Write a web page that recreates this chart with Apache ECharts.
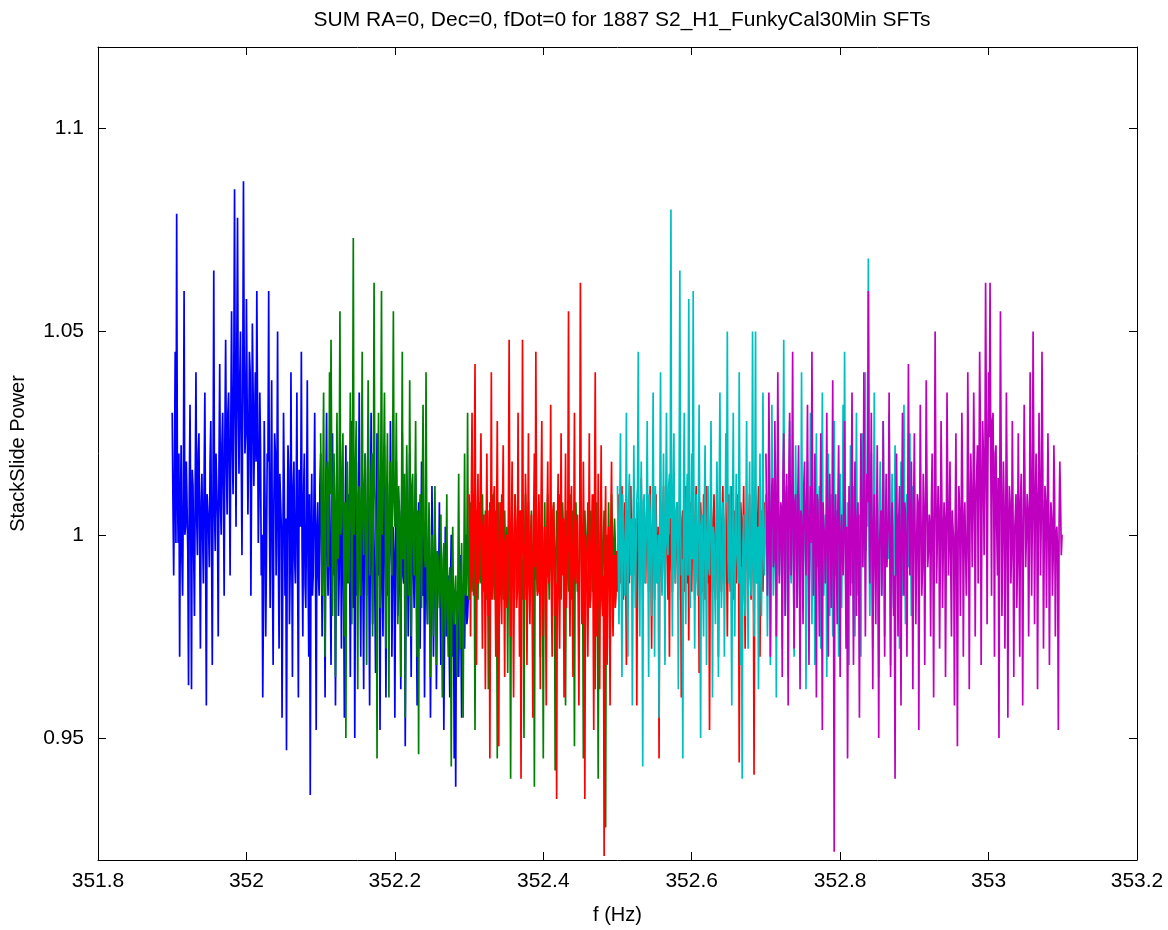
<!DOCTYPE html>
<html>
<head>
<meta charset="utf-8">
<title>StackSlide Power</title>
<script src="https://cdn.jsdelivr.net/npm/echarts@6/dist/echarts.min.js"></script>
<style>
  html, body { margin: 0; padding: 0; background: #fff; }
  #chart { width: 1168px; height: 930px; }
</style>
</head>
<body>
<div id="chart"></div>
<script>
// Frequency bin spacing (Hz) shared by all bands
const binStep = 0.001;

// Start frequency (Hz) of each band
const bandStarts = [351.9, 352.1, 352.3, 352.5, 352.7];

// Tick labels
const xTicks = [351.8, 352, 352.2, 352.4, 352.6, 352.8, 353, 353.2];
const yTicks = [0.95, 1, 1.05, 1.1];

// StackSlide power, band 1 (351.9 - 352.3 Hz)
const blueValues = [
  1.030, 1.008, 0.990, 1.015, 1.045, 0.998, 1.079, 1.012, 0.998, 1.020, 0.970, 1.005, 1.022, 0.995, 0.985, 1.010, 1.060, 1.000, 1.002, 1.018,
  1.018, 0.996, 0.963, 1.010, 1.032, 1.002, 0.962, 1.016, 1.012, 0.994, 0.980, 1.012, 1.040, 1.004, 0.995, 1.020, 1.025, 0.998, 0.972, 1.008,
  1.015, 1.000, 0.988, 1.014, 1.035, 0.996, 0.958, 1.010, 1.010, 1.002, 0.992, 1.018, 1.028, 0.998, 0.968, 1.012, 1.065, 1.006, 0.996, 1.020,
  1.020, 1.004, 0.975, 1.016, 1.042, 1.008, 1.000, 1.022, 1.030, 1.010, 0.985, 1.025, 1.048, 1.018, 1.005, 1.030, 1.035, 1.015, 0.990, 1.028,
  1.055, 1.022, 1.010, 1.040, 1.085, 1.028, 1.002, 1.045, 1.078, 1.030, 1.015, 1.038, 1.050, 1.020, 0.995, 1.035, 1.087, 1.042, 1.020, 1.025,
  1.058, 1.032, 1.005, 1.020, 1.045, 1.040, 0.985, 1.015, 1.052, 1.035, 1.012, 1.025, 1.040, 1.018, 1.060, 1.030, 0.998, 1.010, 1.035, 1.022,
  0.990, 1.000, 0.960, 0.985, 1.028, 1.010, 0.975, 0.995, 1.020, 1.018, 1.060, 1.005, 0.982, 1.012, 1.038, 0.992, 0.968, 1.008, 1.025, 1.020,
  0.990, 1.010, 1.050, 0.995, 0.972, 1.015, 1.015, 1.002, 0.955, 0.990, 1.030, 1.012, 0.985, 1.004, 0.947, 0.998, 1.022, 1.016, 0.978, 0.992,
  1.040, 1.000, 0.965, 1.012, 1.018, 0.994, 0.988, 1.008, 1.035, 0.990, 0.960, 1.016, 1.012, 1.002, 1.045, 0.996, 0.975, 1.010, 1.020, 0.988,
  0.982, 1.005, 1.038, 0.992, 0.970, 1.010, 0.936, 0.998, 1.015, 0.985, 0.990, 1.008, 1.030, 0.995, 0.952, 1.002, 1.008, 0.990, 0.985, 1.012,
  1.020, 0.998, 0.975, 1.005, 1.005, 0.992, 0.960, 1.010, 1.030, 0.995, 0.985, 1.002, 1.012, 0.988, 0.968, 1.008, 1.025, 0.996, 0.990, 1.000,
  0.958, 0.994, 1.015, 1.002, 0.980, 0.990, 1.032, 1.006, 0.972, 0.998, 1.008, 0.986, 0.955, 1.004, 1.022, 0.992, 0.988, 1.000, 1.010, 0.995,
  0.965, 1.002, 1.028, 0.990, 0.982, 1.008, 0.950, 0.996, 1.018, 0.985, 0.992, 1.004, 1.035, 0.994, 0.970, 1.000, 1.005, 0.988, 0.962, 1.006,
  1.020, 0.996, 0.985, 1.004, 1.012, 0.990, 0.958, 1.002, 1.030, 0.994, 0.978, 1.008, 1.008, 0.986, 0.966, 1.000, 1.025, 0.992, 0.990, 1.005,
  0.952, 0.998, 1.015, 0.988, 0.975, 1.004, 1.022, 0.992, 0.960, 1.000, 1.010, 0.985, 0.985, 0.996, 1.028, 1.006, 0.970, 0.990, 1.002, 0.994,
  0.955, 0.992, 1.018, 1.000, 0.980, 0.986, 1.006, 0.996, 0.962, 1.004, 1.025, 0.990, 0.988, 0.998, 0.948, 0.984, 1.012, 1.002, 0.975, 0.994,
  1.020, 0.988, 0.965, 0.996, 1.000, 0.992, 0.982, 1.002, 1.015, 0.984, 0.958, 0.998, 1.008, 0.990, 0.972, 0.994, 1.018, 0.986, 0.985, 1.000,
  0.960, 0.990, 1.010, 0.984, 0.978, 0.996, 0.995, 0.988, 0.955, 0.982, 1.012, 0.994, 0.970, 0.986, 1.005, 0.992, 0.962, 0.980, 0.990, 0.988,
  1.008, 0.984, 0.968, 0.980, 0.985, 0.990, 0.952, 0.978, 1.002, 0.986, 0.975, 0.982, 0.990, 0.976, 0.960, 0.988, 1.000, 0.980, 0.970, 0.984,
  0.945, 0.978, 0.938, 0.986, 0.985, 0.974, 0.965, 0.982, 0.995, 0.976, 0.955, 0.984, 0.988, 0.980, 0.972, 0.988, 1.000, 0.978, 0.980, 0.985
];

// StackSlide power, band 2 (352.1 - 352.5 Hz)
const greenValues = [
  1.025, 1.002, 0.985, 1.012, 1.035, 0.996, 0.970, 1.008, 1.015, 1.018, 0.992, 1.000, 1.040, 1.010, 1.048, 1.015, 0.980, 0.998, 1.020, 1.006,
  0.965, 1.004, 1.030, 0.994, 0.995, 1.012, 1.055, 1.000, 1.002, 1.016, 1.025, 0.998, 0.975, 1.008, 0.950, 1.002, 1.018, 0.992, 0.988, 1.010,
  1.035, 1.006, 0.978, 1.014, 1.073, 1.000, 1.000, 1.018, 1.028, 0.996, 0.962, 1.010, 1.012, 1.004, 0.985, 1.016, 1.045, 1.002, 0.995, 1.012,
  1.020, 0.998, 0.968, 1.008, 1.038, 1.015, 0.990, 1.002, 1.015, 1.020, 0.975, 1.006, 1.062, 1.012, 1.005, 0.996, 0.945, 1.010, 1.030, 1.004,
  0.982, 1.014, 1.060, 1.000, 1.008, 1.018, 1.035, 1.006, 0.972, 1.010, 1.025, 0.996, 0.960, 1.012, 1.018, 1.004, 0.990, 1.016, 1.055, 1.008,
  1.002, 1.010, 1.030, 0.998, 0.978, 1.012, 1.012, 1.002, 0.965, 1.008, 1.045, 0.994, 0.995, 1.015, 0.955, 1.000, 1.022, 1.006, 0.985, 0.996,
  1.038, 1.004, 0.975, 1.012, 1.015, 0.998, 0.990, 1.008, 1.028, 0.994, 0.970, 1.006, 0.946, 1.002, 1.010, 0.996, 0.982, 1.010, 1.032, 1.000,
  0.995, 0.992, 1.040, 1.002, 0.978, 0.988, 1.008, 0.998, 0.965, 0.990, 1.000, 0.984, 0.975, 0.994, 1.012, 0.986, 0.968, 0.996, 0.995, 0.988,
  0.982, 0.990, 1.005, 0.982, 0.960, 0.994, 0.998, 0.986, 0.975, 0.992, 1.010, 0.980, 0.970, 0.988, 0.992, 0.984, 0.943, 0.990, 1.002, 0.982,
  0.978, 0.986, 0.990, 0.980, 0.965, 0.990, 1.015, 0.984, 0.972, 0.988, 0.998, 0.978, 0.955, 0.992, 1.020, 0.986, 0.985, 0.994, 1.030, 0.988,
  0.984, 0.996, 1.008, 0.992, 0.986, 1.002, 1.010, 0.994, 0.952, 0.998, 1.006, 0.990, 0.984, 1.000, 1.008, 0.994, 0.988, 1.002, 1.010, 0.996,
  0.986, 0.998, 1.006, 0.992, 0.984, 1.000, 0.962, 0.994, 1.008, 0.996, 0.988, 1.002, 1.010, 0.990, 0.984, 0.998, 1.006, 0.994, 0.945, 1.000,
  1.008, 0.994, 0.986, 1.000, 1.010, 0.992, 0.984, 0.998, 1.006, 0.996, 0.988, 1.002, 0.966, 0.994, 1.008, 0.990, 0.940, 0.998, 1.006, 0.994,
  0.986, 1.000, 1.010, 0.994, 0.984, 0.998, 1.008, 0.992, 0.988, 1.002, 1.006, 0.996, 0.984, 0.994, 0.950, 1.000, 1.010, 0.992, 0.986, 0.998,
  1.008, 0.994, 0.986, 1.000, 1.006, 0.992, 0.984, 0.998, 0.938, 0.996, 1.010, 0.990, 0.986, 1.002, 1.008, 0.994, 0.970, 0.998, 1.006, 0.992,
  0.945, 0.996, 1.008, 0.990, 0.986, 1.000, 1.010, 0.994, 0.984, 0.998, 1.006, 0.992, 0.988, 1.002, 1.008, 0.996, 0.942, 0.994, 1.006, 0.998,
  0.986, 1.000, 1.010, 0.992, 0.984, 0.996, 1.008, 1.002, 0.988, 0.994, 0.958, 0.998, 1.006, 0.990, 0.986, 1.000, 1.010, 0.994, 0.984, 0.998,
  1.006, 0.992, 0.948, 1.000, 1.008, 0.996, 0.986, 0.994, 0.984, 1.002, 1.010, 0.998, 0.988, 0.992, 0.945, 0.996, 1.006, 1.000, 0.986, 0.994,
  1.008, 0.998, 0.984, 0.992, 1.006, 1.000, 0.986, 0.996, 1.010, 0.994, 0.962, 1.002, 1.008, 0.990, 0.940, 0.996, 0.986, 1.000, 1.010, 0.994,
  0.984, 0.998, 1.006, 0.992, 0.928, 1.000, 0.988, 0.994, 1.008, 0.996, 0.970, 0.990, 1.010, 1.002, 0.986, 0.994, 1.004, 0.998, 0.990, 0.996
];

// StackSlide power, band 3 (352.3 - 352.7 Hz)
const redValues = [
  1.010, 0.998, 0.975, 1.008, 1.030, 0.992, 0.985, 1.012, 1.042, 0.996, 0.968, 1.004, 1.015, 0.988, 0.990, 1.010, 1.025, 0.994, 0.972, 1.002,
  1.005, 0.990, 0.962, 1.000, 1.020, 0.986, 0.980, 1.006, 0.945, 0.994, 1.040, 0.984, 0.992, 1.008, 1.012, 0.992, 0.970, 1.002, 1.028, 0.988,
  0.948, 0.996, 1.008, 0.986, 0.978, 1.004, 1.022, 0.990, 0.965, 0.998, 1.000, 0.982, 0.985, 1.006, 1.048, 0.994, 0.975, 1.000, 1.018, 0.988,
  0.960, 0.992, 1.010, 1.002, 0.982, 0.986, 1.030, 0.996, 0.970, 1.006, 0.940, 0.990, 1.048, 0.998, 0.992, 0.984, 1.015, 1.004, 0.968, 0.994,
  1.025, 0.988, 0.978, 0.998, 1.005, 0.982, 0.955, 1.004, 1.020, 0.992, 1.045, 1.000, 0.985, 0.986, 1.010, 0.996, 0.962, 1.008, 1.028, 0.990,
  0.975, 0.996, 1.002, 0.986, 0.958, 1.002, 1.018, 0.990, 0.988, 0.998, 1.032, 0.984, 0.970, 1.006, 1.008, 0.992, 0.980, 0.988, 0.935, 1.000,
  1.015, 0.986, 0.972, 0.996, 1.025, 0.990, 0.990, 1.004, 0.960, 0.994, 1.020, 0.982, 0.982, 1.000, 1.055, 0.992, 0.975, 1.006, 1.012, 0.988,
  0.965, 0.998, 1.030, 0.990, 0.988, 1.002, 1.005, 0.984, 0.958, 0.996, 1.062, 1.008, 0.978, 0.986, 1.018, 0.994, 0.935, 1.000, 1.000, 0.988,
  0.970, 0.992, 1.025, 0.982, 0.985, 0.998, 1.010, 0.988, 0.952, 1.004, 1.040, 0.994, 0.975, 0.986, 1.015, 0.990, 0.962, 0.996, 1.022, 0.984,
  0.980, 0.990, 0.921, 0.998, 1.012, 0.984, 0.968, 0.994, 1.002, 0.988, 0.958, 1.002, 1.018, 0.986, 0.975, 0.992, 0.995, 0.982, 0.985, 0.996,
  0.986, 0.998, 1.010, 0.994, 0.988, 1.004, 1.012, 0.996, 0.984, 1.000, 1.008, 0.992, 0.968, 1.002, 1.006, 0.996, 0.988, 1.004, 1.012, 0.994,
  0.986, 1.000, 1.010, 0.996, 0.990, 1.004, 0.958, 0.998, 1.008, 0.994, 0.988, 1.002, 1.014, 0.996, 0.984, 1.000, 1.006, 0.992, 0.988, 1.004,
  1.010, 0.996, 0.986, 1.002, 1.012, 0.994, 0.972, 1.000, 1.006, 0.996, 0.984, 1.004, 1.010, 0.992, 0.988, 1.002, 0.945, 0.998, 1.008, 0.994,
  0.986, 1.002, 1.012, 0.996, 0.988, 1.004, 1.008, 0.994, 0.984, 1.000, 0.970, 1.006, 1.010, 0.992, 0.986, 1.002, 1.012, 0.996, 0.988, 1.000,
  1.008, 0.994, 0.984, 1.002, 1.010, 0.996, 0.960, 1.004, 1.006, 0.992, 0.986, 1.000, 1.012, 0.996, 0.988, 1.004, 0.974, 0.998, 1.008, 0.994,
  0.986, 1.002, 1.010, 0.996, 0.984, 1.004, 1.012, 0.992, 0.988, 1.000, 0.966, 0.996, 1.008, 1.002, 0.986, 0.994, 1.010, 1.004, 0.984, 0.998,
  1.012, 0.996, 0.988, 1.002, 0.952, 0.994, 1.008, 1.004, 0.986, 0.996, 1.010, 1.000, 0.984, 0.994, 1.006, 1.002, 0.970, 0.998, 1.010, 0.996,
  0.986, 1.004, 1.012, 0.994, 0.988, 1.000, 1.008, 0.996, 0.975, 1.002, 1.010, 0.994, 0.986, 1.004, 1.012, 0.998, 0.984, 0.994, 1.006, 1.000,
  0.988, 0.996, 1.010, 1.002, 0.944, 0.994, 1.008, 1.004, 0.986, 0.998, 1.012, 0.992, 0.972, 1.002, 1.006, 0.996, 0.986, 1.004, 1.010, 0.994,
  0.984, 1.000, 1.008, 0.996, 0.941, 1.002, 1.010, 0.994, 0.988, 1.004, 1.012, 0.996, 0.970, 1.000, 1.006, 0.994, 0.986, 1.002, 1.008, 0.998
];

// StackSlide power, band 4 (352.5 - 352.9 Hz)
const cyanValues = [
  1.012, 0.996, 0.978, 1.006, 1.025, 0.990, 0.965, 1.010, 1.002, 0.994, 0.985, 1.002, 1.030, 0.986, 0.970, 1.008, 1.015, 0.998, 0.990, 1.004,
  0.958, 0.992, 1.022, 1.000, 0.982, 0.996, 1.008, 1.012, 1.045, 0.990, 0.975, 1.004, 1.018, 0.994, 0.943, 1.008, 1.010, 0.988, 0.988, 1.002,
  1.028, 0.998, 0.965, 1.010, 1.005, 0.992, 0.980, 1.004, 1.035, 0.996, 0.970, 1.012, 1.012, 0.988, 0.992, 1.000, 0.955, 1.006, 1.040, 0.994,
  0.985, 1.002, 1.020, 0.994, 0.968, 1.008, 1.030, 0.998, 0.995, 1.012, 1.015, 1.004, 1.080, 0.996, 0.975, 1.010, 1.025, 0.992, 0.988, 1.006,
  1.008, 0.998, 0.962, 1.008, 1.065, 1.002, 0.990, 0.994, 0.945, 1.012, 1.030, 0.996, 0.978, 1.006, 1.015, 0.990, 1.058, 1.004, 0.982, 1.000,
  1.020, 0.994, 1.060, 1.004, 0.972, 0.998, 1.010, 0.990, 0.985, 1.008, 1.032, 0.996, 0.950, 1.002, 1.005, 0.988, 0.975, 1.006, 1.022, 0.992,
  0.968, 1.000, 1.012, 0.992, 0.990, 1.006, 1.028, 0.996, 0.960, 1.002, 1.000, 0.988, 0.978, 1.004, 1.018, 0.994, 0.965, 1.008, 1.035, 0.998,
  0.982, 0.990, 1.008, 1.002, 0.970, 0.996, 1.025, 1.008, 1.050, 0.994, 0.988, 1.000, 1.012, 0.986, 0.958, 1.004, 1.030, 0.992, 0.975, 0.998,
  1.015, 0.996, 0.992, 0.988, 1.040, 1.002, 0.968, 0.992, 0.940, 0.998, 1.005, 0.986, 0.980, 1.004, 1.028, 0.994, 0.972, 1.000, 1.018, 0.990,
  0.985, 0.998, 1.050, 0.992, 0.975, 1.006, 1.050, 0.988, 0.998, 1.002, 0.962, 0.996, 1.020, 0.990, 0.980, 1.004, 1.035, 0.994, 0.990, 1.000,
  1.010, 1.000, 0.975, 0.994, 1.025, 1.004, 0.968, 0.998, 1.032, 1.002, 0.985, 0.992, 1.015, 1.006, 0.960, 0.996, 1.020, 1.000, 0.990, 1.004,
  1.005, 0.996, 0.972, 1.002, 1.048, 0.998, 0.980, 1.006, 1.012, 0.994, 0.965, 1.000, 1.028, 0.992, 0.988, 1.004, 1.000, 0.998, 0.970, 1.002,
  1.022, 1.004, 0.982, 0.996, 1.010, 1.000, 0.975, 0.992, 1.040, 1.002, 0.990, 0.998, 1.008, 1.006, 0.962, 0.994, 1.018, 1.000, 0.985, 0.996,
  1.030, 0.998, 0.978, 1.004, 1.002, 0.994, 0.968, 1.000, 1.025, 0.996, 0.992, 1.006, 1.012, 0.992, 0.972, 1.002, 1.035, 0.998, 0.985, 1.000,
  1.005, 1.002, 0.965, 0.996, 1.020, 1.004, 0.980, 0.994, 1.010, 1.000, 0.975, 0.998, 1.028, 0.992, 0.990, 1.006, 1.000, 0.996, 0.970, 1.002,
  1.015, 0.996, 0.982, 1.002, 1.032, 0.998, 1.045, 1.004, 0.978, 0.994, 1.008, 1.000, 0.968, 0.998, 1.022, 1.006, 0.988, 0.992, 1.012, 1.000,
  0.975, 1.004, 1.030, 0.996, 0.985, 1.000, 1.005, 0.994, 0.970, 1.002, 1.025, 0.998, 0.992, 1.006, 1.040, 0.996, 1.010, 1.002, 1.068, 0.998,
  0.980, 1.000, 1.020, 0.994, 0.972, 1.004, 1.035, 0.998, 0.990, 1.002, 1.008, 0.992, 0.965, 1.006, 1.018, 1.000, 0.985, 0.996, 1.028, 1.002,
  0.975, 0.998, 1.010, 1.002, 0.995, 0.994, 1.030, 1.004, 0.968, 1.000, 1.015, 0.996, 0.982, 1.002, 1.022, 0.998, 0.990, 1.004, 1.005, 0.994,
  0.972, 1.000, 1.018, 0.996, 0.985, 1.002, 1.032, 0.998, 0.978, 1.004, 1.010, 0.994, 0.992, 1.000, 1.025, 0.998, 0.980, 1.002, 1.012, 0.996
];

// StackSlide power, band 5 (352.7 - 353.1 Hz)
const magentaValues = [
  1.020, 1.004, 0.985, 0.996, 1.035, 1.010, 0.970, 1.000, 1.012, 1.014, 0.992, 0.994, 1.028, 1.008, 0.975, 1.002, 1.040, 1.012, 0.988, 0.998,
  1.008, 1.006, 0.965, 1.014, 1.025, 0.998, 0.980, 1.010, 1.015, 1.002, 0.958, 1.016, 1.030, 1.004, 0.990, 1.012, 1.045, 0.996, 0.972, 1.008,
  1.010, 1.000, 0.982, 1.010, 1.022, 0.994, 0.962, 1.006, 1.005, 0.998, 0.978, 1.012, 1.018, 1.002, 0.990, 1.008, 1.032, 0.996, 0.968, 1.004,
  1.012, 0.998, 1.045, 1.006, 0.985, 1.002, 1.020, 0.994, 0.960, 1.010, 1.008, 0.996, 0.975, 1.004, 1.025, 0.992, 0.952, 1.008, 1.002, 1.000,
  0.988, 1.002, 1.030, 0.994, 0.970, 1.006, 1.015, 0.998, 0.982, 1.000, 1.038, 0.992, 0.922, 1.004, 1.010, 0.996, 0.978, 1.008, 1.022, 0.998,
  0.965, 1.000, 1.005, 0.994, 0.990, 1.004, 1.028, 0.996, 0.972, 1.002, 0.945, 0.990, 1.012, 0.998, 0.985, 1.006, 1.035, 0.994, 0.968, 1.002,
  1.018, 0.996, 0.980, 1.004, 1.008, 0.992, 0.955, 1.000, 1.025, 1.006, 0.992, 0.998, 1.040, 1.010, 0.975, 1.002, 1.015, 1.008, 1.060, 1.012,
  0.988, 1.004, 1.030, 0.996, 0.962, 1.002, 1.010, 0.994, 0.978, 1.000, 1.022, 0.992, 0.950, 0.998, 1.002, 1.006, 0.985, 0.996, 1.028, 1.002,
  0.970, 0.998, 1.015, 0.992, 0.992, 1.004, 1.035, 0.996, 0.965, 1.000, 1.008, 0.994, 0.980, 0.990, 0.940, 1.002, 1.020, 0.996, 0.975, 1.004,
  1.012, 0.994, 0.958, 1.002, 1.030, 0.998, 0.985, 1.008, 1.005, 0.996, 0.970, 1.004, 1.042, 1.010, 0.990, 1.000, 1.018, 0.994, 0.962, 1.006,
  1.025, 1.000, 0.978, 0.996, 1.010, 1.008, 0.952, 0.998, 1.032, 1.004, 0.985, 0.992, 1.015, 1.006, 0.968, 1.000, 1.038, 1.012, 0.992, 0.996,
  1.005, 1.002, 0.975, 1.008, 1.020, 0.996, 0.960, 1.004, 1.050, 1.012, 0.988, 1.000, 1.012, 1.006, 0.972, 0.994, 1.028, 1.010, 0.982, 0.998,
  1.008, 1.004, 0.965, 0.996, 1.035, 1.010, 0.990, 1.000, 1.018, 0.994, 0.975, 1.006, 1.002, 0.998, 0.958, 1.002, 1.025, 0.992, 0.948, 1.000,
  1.012, 1.006, 0.980, 0.998, 1.030, 1.012, 0.970, 1.002, 1.008, 1.008, 0.985, 0.996, 1.040, 1.014, 0.962, 1.004, 1.020, 1.010, 0.992, 1.006,
  1.035, 1.016, 0.975, 1.008, 1.015, 1.022, 0.988, 1.010, 1.045, 1.026, 0.968, 1.004, 1.028, 1.020, 0.995, 1.012, 1.062, 1.030, 0.978, 1.014,
  1.040, 1.024, 1.062, 1.018, 0.985, 1.028, 1.030, 1.008, 0.970, 1.020, 1.022, 1.002, 0.990, 1.014, 0.950, 1.006, 1.055, 1.018, 0.980, 1.000,
  1.018, 1.006, 0.972, 0.998, 1.035, 1.012, 0.955, 1.002, 1.012, 1.008, 0.988, 0.996, 1.028, 1.004, 0.965, 1.000, 1.005, 1.010, 0.982, 0.994,
  1.025, 1.002, 0.970, 1.008, 1.015, 0.996, 0.958, 1.004, 1.032, 1.012, 0.992, 1.000, 1.010, 1.006, 0.975, 0.998, 1.040, 1.014, 0.985, 1.004,
  1.050, 1.016, 0.978, 1.006, 1.020, 1.010, 0.962, 1.000, 1.030, 1.014, 0.990, 1.004, 1.045, 1.018, 0.972, 0.998, 1.012, 1.008, 0.982, 1.002,
  1.025, 1.006, 0.968, 0.998, 1.008, 1.004, 0.985, 0.994, 1.022, 1.010, 0.975, 1.000, 1.002, 0.996, 0.952, 1.002, 1.018, 1.008, 0.995, 1.000
];

const bandValues = [blueValues, greenValues, redValues, cyanValues, magentaValues];
const bandColors = ['#0000ff', '#008000', '#ff0000', '#00bfbf', '#bf00bf'];

// Pair each power value with its bin frequency
function toPoints(values, start) {
  return values.map((v, i) => [start + i * binStep, v]);
}

const fontFamily = '"Liberation Sans", Arial, sans-serif';

const series = bandValues.map((vals, k) => ({
  type: 'line',
  data: toPoints(vals, bandStarts[k]),
  showSymbol: false,
  symbol: 'none',
  lineStyle: { color: bandColors[k], width: 1.7 },
  xAxisIndex: 0,
  yAxisIndex: 0,
  silent: true
}));

const tickInside = { show: true, inside: true, length: 8, lineStyle: { color: '#000', width: 1 } };
const axisLine = { show: true, onZero: false, lineStyle: { color: '#000', width: 1 } };

const chart = echarts.init(document.getElementById('chart'), null, { renderer: 'canvas' });
chart.setOption({
  backgroundColor: '#ffffff',
  animation: false,
  title: {
    text: 'SUM RA=0, Dec=0, fDot=0 for 1887 S2_H1_FunkyCal30Min SFTs',
    left: 617,
    textAlign: 'center',
    top: 5,
    textStyle: { color: '#000', fontSize: 21, fontWeight: 'normal', fontFamily: fontFamily }
  },
  grid: { left: 97, right: 31, top: 47, bottom: 64 },
  xAxis: [
    {
      type: 'value',
      min: xTicks[0],
      max: xTicks[xTicks.length - 1],
      interval: 0.2,
      position: 'bottom',
      name: 'f (Hz)',
      nameLocation: 'middle',
      nameGap: 45,
      nameTextStyle: { color: '#000', fontSize: 20, fontFamily: fontFamily },
      axisLine: axisLine,
      axisTick: tickInside,
      axisLabel: {
        color: '#000', fontSize: 21, fontFamily: fontFamily, margin: 11,
        formatter: v => String(parseFloat(v.toFixed(1)))
      },
      splitLine: { show: false }
    },
    {
      type: 'value',
      min: xTicks[0],
      max: xTicks[xTicks.length - 1],
      interval: 0.2,
      position: 'top',
      axisLine: axisLine,
      axisTick: tickInside,
      axisLabel: { show: false },
      splitLine: { show: false }
    }
  ],
  yAxis: [
    {
      type: 'value',
      min: 0.92,
      max: 1.12,
      position: 'left',
      name: 'StackSlide Power',
      nameLocation: 'middle',
      nameGap: 70,
      nameTextStyle: { color: '#000', fontSize: 20, fontFamily: fontFamily },
      axisLine: axisLine,
      axisTick: Object.assign({}, tickInside, { customValues: yTicks }),
      axisLabel: {
        color: '#000', fontSize: 21, fontFamily: fontFamily, margin: 14,
        customValues: yTicks,
        formatter: v => String(parseFloat(v.toFixed(2)))
      },
      splitLine: { show: false }
    },
    {
      type: 'value',
      min: 0.92,
      max: 1.12,
      position: 'right',
      axisLine: axisLine,
      axisTick: Object.assign({}, tickInside, { customValues: yTicks }),
      axisLabel: { show: false, customValues: yTicks },
      splitLine: { show: false }
    }
  ],
  series: series
});
</script>
</body>
</html>
